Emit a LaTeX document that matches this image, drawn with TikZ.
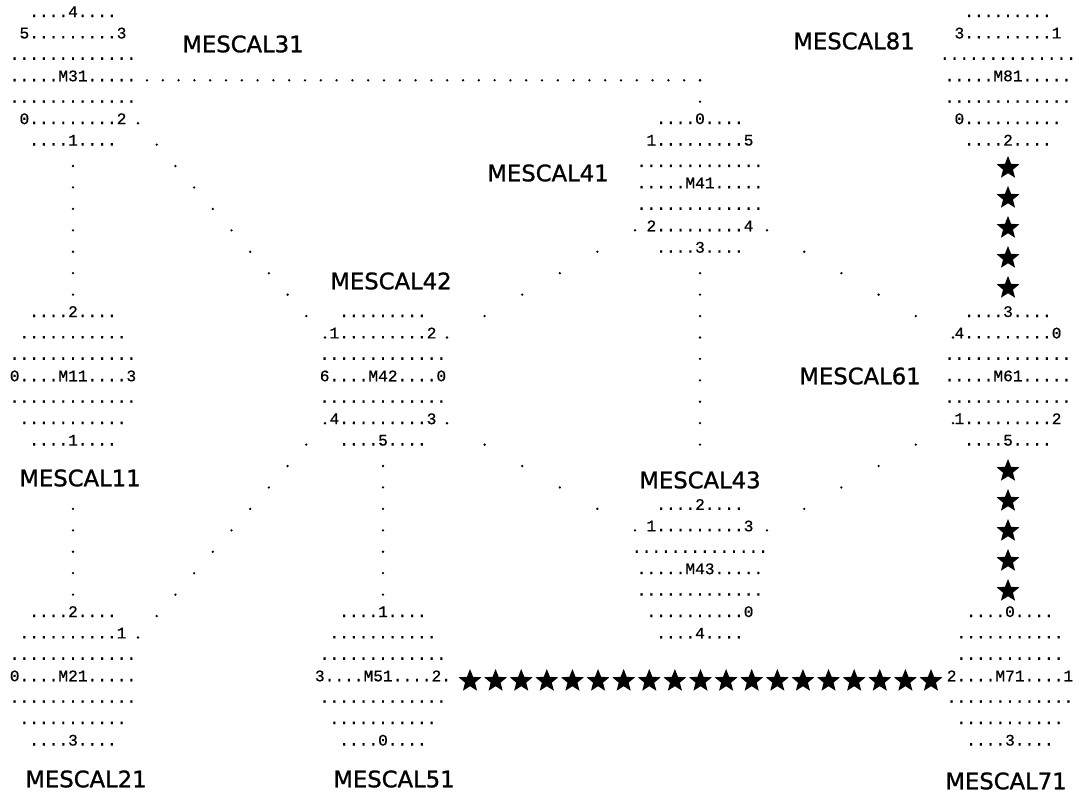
\documentclass[tikz,border=0pt]{standalone}
\usepackage{fontspec}
\usepackage{tikz}
\usetikzlibrary{shapes,calc}
\newfontfamily\mescalfont{DejaVu Sans}[BoldFont=DejaVu Sans, BoldFeatures={FakeBold=1.1}]
\newfontfamily\gridfont{Liberation Mono}[BoldFont=Liberation Mono, BoldFeatures={FakeBold=0.6}]
\newcommand{\dotrun}[3]{\foreach \i in {0,...,#3} \fill ($(#1)!\i/#3!(#2)$) circle (1.3pt);}
\newcommand{\starrun}[3]{\foreach \i in {0,...,#3} \node[pip] at ($(#1)!\i/#3!(#2)$) {};}

\begin{document}
\begin{tikzpicture}[x=1pt,y=-1pt]
\tikzstyle{block} = [align=center, inner sep=0pt, font=\fontsize{16.2}{21.43}\selectfont\gridfont\bfseries]
\tikzstyle{mescal} = [inner sep=0pt, font=\fontsize{22.7}{26}\selectfont\mescalfont\bfseries]
\tikzstyle{pip} = [star, star points=5, star point ratio=2.3, fill, inner sep=0pt, minimum size=24pt]
\useasboundingbox (0,0) rectangle (1079,793);

% grid blocks
\node[block] (m31) at (73,77) {\strut....4....\\5.........3\\.............\\.....M31.....\\.............\\0.........2\\....1....\strut};
\node[block] (m81) at (1008,77) {\strut.........\\3.........1\\..............\\.....M81.....\\.............\\0..........\\....2....\strut};
\node[block] (m41) at (700,184.1) {\strut....0....\\1.........5\\.............\\.....M41.....\\.............\\2.........4\\....3....\strut};
\node[block] (m11) at (73,377) {\strut....2....\\...........\\.............\\0....M11....3\\.............\\...........\\....1....\strut};
\node[block] (m42) at (383,377) {\strut.........\\1.........2\\.............\\6....M42....0\\.............\\4.........3\\....5....\strut};
\node[block] (m61) at (1008,377) {\strut....3....\\4.........0\\.............\\.....M61.....\\.............\\1.........2\\....5....\strut};
\node[block] (m43) at (700,569.9) {\strut....2....\\1.........3\\..............\\.....M43.....\\.............\\..........0\\....4....\strut};
\node[block] (m21) at (73,677) {\strut....2....\\..........1\\.............\\0....M21.....\\.............\\...........\\....3....\strut};
\node[block] (m51) at (383,677) {\strut....1....\\...........\\.............\\3....M51....2.\\.............\\...........\\....0....\strut};
\node[block] (m71) at (1010,677) {\strut....0....\\...........\\...........\\2....M71....1\\.............\\...........\\....3....\strut};

% names
\node[mescal] (l31) at (243,44) {MESCAL31};
\node[mescal] (l81) at (854,41) {MESCAL81};
\node[mescal] (l41) at (548,173) {MESCAL41};
\node[mescal] (l42) at (391,281) {MESCAL42};
\node[mescal] (l11) at (80,478) {MESCAL11};
\node[mescal] (l43) at (700,480) {MESCAL43};
\node[mescal] (l61) at (860,376) {MESCAL61};
\node[mescal] (l21) at (86,779) {MESCAL21};
\node[mescal] (l51) at (394,779) {MESCAL51};
\node[mescal] (l71) at (1006,781) {MESCAL71};

% ports
\coordinate (m31e) at (147,80.3);
\coordinate (m31k) at (700,80.3);
\coordinate (m41n) at (700,101.7);
\coordinate (m31p2) at (138,123.2);
\coordinate (m42p1) at (325,337.5);
\coordinate (m31p1) at (73,166);
\coordinate (m11p2) at (73,294.6);
\coordinate (m11p1) at (73,508.9);
\coordinate (m21p2) at (73,594.6);
\coordinate (m42p5) at (383,466);
\coordinate (m51p1) at (383,594.6);
\coordinate (m42p4) at (325,423.2);
\coordinate (m21p1) at (138,637.5);
\coordinate (m42p2) at (447,337.5);
\coordinate (m41p2) at (635,230.3);
\coordinate (m42p3) at (447,423.2);
\coordinate (m43p1) at (635,530.3);
\coordinate (m41p3) at (700,273.2);
\coordinate (m43p2) at (700,444.6);
\coordinate (m41p4) at (767,230.3);
\coordinate (m61p4) at (953,337.5);
\coordinate (m43p3) at (767,530.3);
\coordinate (m61p1) at (953,423.2);
\coordinate (m81p2) at (1008,168);
\coordinate (m61p3) at (1008,288);
\coordinate (m61p5) at (1008,471);
\coordinate (m71p0) at (1008,591);
\coordinate (m51p2) at (470,681);
\coordinate (m71p2) at (931,681);

% dotted links
\dotrun{m31e}{m31k}{35}
\dotrun{m31k}{m41n}{1}
\dotrun{m31p2}{m42p1}{10}
\dotrun{m31p1}{m11p2}{6}
\dotrun{m11p1}{m21p2}{4}
\dotrun{m42p5}{m51p1}{6}
\dotrun{m42p4}{m21p1}{10}
\dotrun{m42p2}{m41p2}{5}
\dotrun{m42p3}{m43p1}{5}
\dotrun{m41p3}{m43p2}{8}
\dotrun{m41p4}{m61p4}{5}
\dotrun{m43p3}{m61p1}{5}

% starred links
\starrun{m81p2}{m61p3}{4}
\starrun{m61p5}{m71p0}{4}
\starrun{m51p2}{m71p2}{18}
\end{tikzpicture}
\end{document}
